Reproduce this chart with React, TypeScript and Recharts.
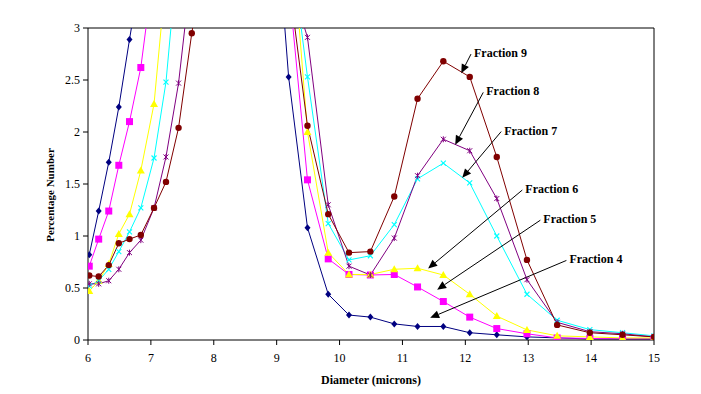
import { LineChart, Line, XAxis, YAxis, ReferenceLine, Label } from "recharts";

// diameter bins (microns); values between ~7.7 and ~9.2 run off the top of the chart
const diameters = [6.02, 6.17, 6.33, 6.49, 6.66, 6.84, 7.05, 7.24, 7.44, 7.65, 7.85, 8.5, 8.9, 9.19, 9.49, 9.82, 10.15, 10.49, 10.87, 11.24, 11.65, 12.07, 12.5, 12.98, 13.46, 13.98, 14.5, 15.0];

const fraction4 = [0.82, 1.24, 1.71, 2.24, 2.89, 3.55, 4.6, 5.6, 6.5, 7.3, 8.0, 8.6, 4.8, 2.53, 1.08, 0.44, 0.24, 0.22, 0.155, 0.13, 0.13, 0.07, 0.05, 0.03, 0.02, 0.01, 0.01, 0.01];
const fraction5 = [0.71, 0.97, 1.24, 1.68, 2.1, 2.62, 3.6, 4.5, 5.3, 6.1, 6.8, 8.0, 6.5, 3.44, 1.54, 0.78, 0.63, 0.625, 0.63, 0.51, 0.37, 0.22, 0.11, 0.06, 0.02, 0.015, 0.01, 0.01];
const fraction6 = [0.47, 0.57, 0.73, 1.02, 1.21, 1.63, 2.27, 3.5, 4.3, 5.0, 5.7, 7.5, 6.5, 4.3, 2.0, 0.84, 0.63, 0.63, 0.68, 0.69, 0.625, 0.44, 0.23, 0.097, 0.04, 0.03, 0.02, 0.02];
const fraction7 = [0.52, 0.57, 0.68, 0.85, 1.04, 1.27, 1.75, 2.48, 3.8, 4.6, 5.4, 7.3, 6.3, 3.94, 2.53, 1.12, 0.77, 0.81, 1.11, 1.55, 1.7, 1.51, 1.0, 0.44, 0.19, 0.1, 0.07, 0.04];
const fraction8 = [0.54, 0.54, 0.57, 0.68, 0.84, 0.96, 1.27, 1.76, 2.47, 3.59, 4.4, 6.8, 6.0, 3.5, 2.91, 1.3, 0.71, 0.625, 0.98, 1.58, 1.93, 1.82, 1.36, 0.58, 0.17, 0.08, 0.06, 0.03];
const fraction9 = [0.62, 0.61, 0.72, 0.93, 0.97, 1.01, 1.27, 1.52, 2.04, 2.95, 3.7, 6.5, 5.8, 3.47, 2.06, 1.21, 0.84, 0.85, 1.38, 2.32, 2.68, 2.53, 1.76, 0.77, 0.145, 0.07, 0.05, 0.03];

const xTicks = [6, 7, 8, 9, 10, 11, 12, 13, 14, 15];
const yTicks = [0, 0.5, 1, 1.5, 2, 2.5, 3];

// callouts: label, where the text/arrow starts, where the arrow points
const calloutLabels = ["Fraction 9", "Fraction 8", "Fraction 7", "Fraction 6", "Fraction 5", "Fraction 4"];
const calloutFrom = [
  { x: 12.09, y: 2.749 },
  { x: 12.285, y: 2.381 },
  { x: 12.57, y: 2.004 },
  { x: 12.906, y: 1.442 },
  { x: 13.193, y: 1.152 },
  { x: 13.607, y: 0.765 },
];
const calloutTo = [
  { x: 11.935, y: 2.565 },
  { x: 11.839, y: 1.878 },
  { x: 11.951, y: 1.559 },
  { x: 11.409, y: 0.687 },
  { x: 11.552, y: 0.484 },
  { x: 11.441, y: 0.213 },
];

const data = diameters.map((d, i) => ({
  d,
  f4: fraction4[i],
  f5: fraction5[i],
  f6: fraction6[i],
  f7: fraction7[i],
  f8: fraction8[i],
  f9: fraction9[i],
}));

const series = [
  { key: "f4", color: "#000080", marker: "diamond" },
  { key: "f5", color: "#FF00FF", marker: "square" },
  { key: "f6", color: "#FFFF00", marker: "triangle" },
  { key: "f7", color: "#00FFFF", marker: "cross" },
  { key: "f8", color: "#800080", marker: "star" },
  { key: "f9", color: "#800000", marker: "circle" },
];

const FONT = "'Liberation Serif', 'Times New Roman', serif";

function makeDot(kind: string, color: string) {
  return (p: any) => {
    const { cx, cy, index } = p;
    const key = `${kind}-${index}`;
    if (cx == null || cy == null) return <g key={key} />;
    switch (kind) {
      case "diamond":
        return <path key={key} d={`M${cx},${cy - 3.5}L${cx + 3},${cy}L${cx},${cy + 3.5}L${cx - 3},${cy}Z`} fill={color} />;
      case "square":
        return <rect key={key} x={cx - 3.5} y={cy - 3.5} width={7} height={7} fill={color} />;
      case "triangle":
        return <path key={key} d={`M${cx},${cy - 4}L${cx + 4},${cy + 3}L${cx - 4},${cy + 3}Z`} fill={color} />;
      case "cross":
        return (
          <path key={key} d={`M${cx - 2.5},${cy - 2.5}L${cx + 2.5},${cy + 2.5}M${cx + 2.5},${cy - 2.5}L${cx - 2.5},${cy + 2.5}`} stroke={color} strokeWidth={1.1} fill="none" />
        );
      case "star":
        return (
          <path
            key={key}
            d={`M${cx - 2.5},${cy - 2.5}L${cx + 2.5},${cy + 2.5}M${cx + 2.5},${cy - 2.5}L${cx - 2.5},${cy + 2.5}M${cx},${cy - 3}L${cx},${cy + 3}`}
            stroke={color}
            strokeWidth={1}
            fill="none"
          />
        );
      default:
        return <circle key={key} cx={cx} cy={cy} r={3.2} fill={color} />;
    }
  };
}

function arrowShape(label: string) {
  return (p: any) => {
    const { x1, y1, x2, y2 } = p;
    const ang = Math.atan2(y2 - y1, x2 - x1);
    const len = 9;
    const half = 4;
    const bx = x2 - len * Math.cos(ang);
    const by = y2 - len * Math.sin(ang);
    const px = -Math.sin(ang) * half;
    const py = Math.cos(ang) * half;
    return (
      <g>
        <line x1={x1} y1={y1} x2={bx} y2={by} stroke="#000" strokeWidth={1} />
        <path d={`M${x2},${y2}L${bx + px},${by + py}L${bx - px},${by - py}Z`} fill="#000" />
        <text x={x1 + 3} y={y1 + 3} fontSize={12} fontWeight="bold" fill="#000" fontFamily={FONT}>
          {label}
        </text>
      </g>
    );
  };
}

export default function App() {
  return (
    <div style={{ position: "absolute", left: 0, top: 0, width: 701, height: 394, background: "#fff" }}>
      <LineChart
        width={701}
        height={394}
        data={data}
        margin={{ top: 28, right: 47, bottom: 0, left: 0 }}
        style={{ fontFamily: FONT }}
      >
        <XAxis
          type="number"
          dataKey="d"
          domain={[6, 15]}
          ticks={xTicks}
          allowDataOverflow
          height={54}
          tickSize={5}
          tickMargin={8}
          stroke="#000"
          tick={{ fontSize: 12, fill: "#000", fontFamily: FONT }}
        >
          <Label
            content={(props: any) => {
              const vb = props.viewBox;
              return (
                <text x={vb.x + vb.width / 2} y={vb.y + 44} textAnchor="middle" fontSize={12} fontWeight="bold" fill="#000" fontFamily={FONT}>
                  Diameter (microns)
                </text>
              );
            }}
          />
        </XAxis>
        <YAxis
          type="number"
          domain={[0, 3]}
          ticks={yTicks}
          allowDataOverflow
          width={88}
          tickSize={5}
          tickMargin={3}
          stroke="#000"
          tick={{ fontSize: 12, fill: "#000", fontFamily: FONT }}
        >
          <Label
            content={(props: any) => {
              const vb = props.viewBox;
              const cx = vb.x + 50;
              const cy = vb.y + vb.height / 2 + 11;
              return (
                <text x={cx} y={cy} transform={`rotate(-90 ${cx} ${cy})`} textAnchor="middle" dominantBaseline="central" fontSize={11} fontWeight="bold" fill="#000" fontFamily={FONT}>
                  Percentage Number
                </text>
              );
            }}
          />
        </YAxis>
        <ReferenceLine y={3} stroke="#000" strokeWidth={1} />
        <ReferenceLine x={15} stroke="#000" strokeWidth={1} />
        {series.map((s) => (
          <Line
            key={s.key}
            type="linear"
            dataKey={s.key}
            stroke={s.color}
            strokeWidth={1}
            dot={makeDot(s.marker, s.color)}
            activeDot={false}
            isAnimationActive={false}
          />
        ))}
        {calloutLabels.map((label, i) => (
          <ReferenceLine
            key={label}
            segment={[calloutFrom[i], calloutTo[i]]}
            shape={arrowShape(label)}
          />
        ))}
      </LineChart>
    </div>
  );
}
